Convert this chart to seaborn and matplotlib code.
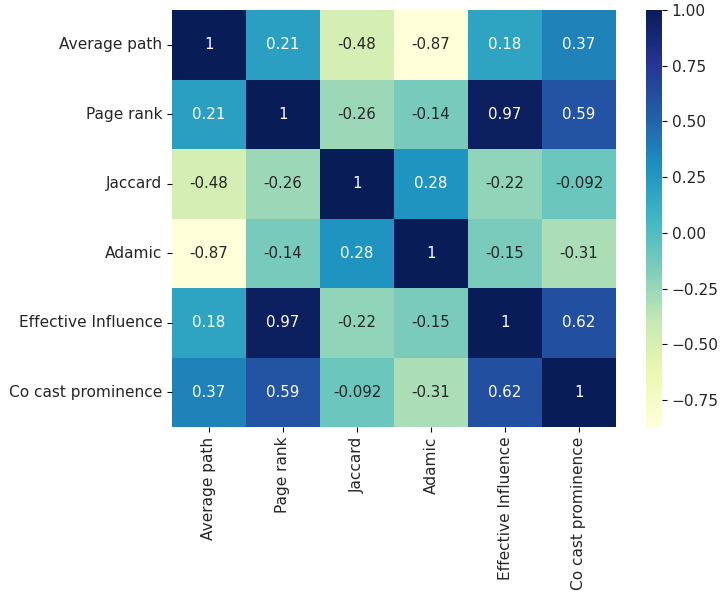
import numpy as np
import pandas as pd
import matplotlib
matplotlib.use("Agg")
import matplotlib.pyplot as plt
import seaborn as sns

# metric names (rows and columns of the correlation matrix)
metrics = ["Average path", "Page rank", "Jaccard", "Adamic",
           "Effective Influence", "Co cast prominence"]

# correlation values, one row per metric
average_path = [1, 0.21, -0.48, -0.87, 0.18, 0.37]
page_rank = [0.21, 1, -0.26, -0.14, 0.97, 0.59]
jaccard = [-0.48, -0.26, 1, 0.28, -0.22, -0.092]
adamic = [-0.87, -0.14, 0.28, 1, -0.15, -0.31]
effective_influence = [0.18, 0.97, -0.22, -0.15, 1, 0.62]
co_cast_prominence = [0.37, 0.59, -0.092, -0.31, 0.62, 1]

corr = pd.DataFrame(
    [average_path, page_rank, jaccard, adamic, effective_influence, co_cast_prominence],
    index=metrics, columns=metrics)

plt.rcParams["text.color"] = "#262626"
plt.rcParams["xtick.labelcolor"] = "#262626"
plt.rcParams["ytick.labelcolor"] = "#262626"

fig = plt.figure(figsize=(7.22, 5.98), dpi=100)
W, H = 722, 598
ax = fig.add_axes([172 / W, 1 - 427 / H, (616 - 172) / W, (427 - 10) / H])
cax = fig.add_axes([646 / W, 1 - 427 / H, 16 / W, (427 - 10) / H])

sns.heatmap(corr, annot=True, cmap="YlGnBu", ax=ax, cbar_ax=cax,
            annot_kws={"fontsize": 10.8})
ax.tick_params(labelsize=11.1)
cax.tick_params(labelsize=11.1)

fig.savefig("out.png", dpi=100)
